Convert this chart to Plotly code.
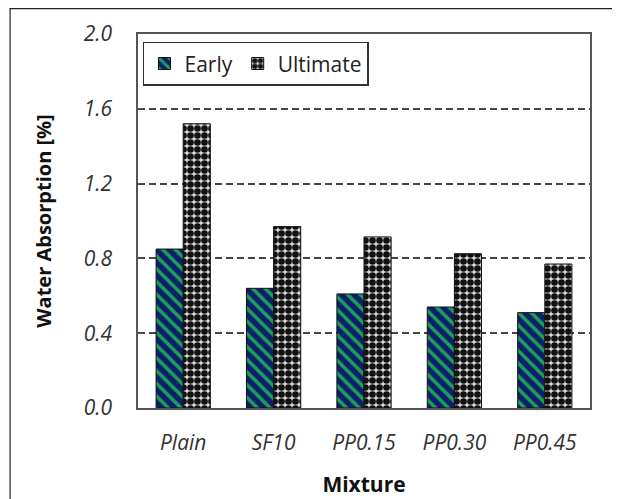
import plotly.graph_objects as go

categories = ["Plain", "SF10", "PP0.15", "PP0.30", "PP0.45"]
early = [0.85, 0.64, 0.61, 0.54, 0.51]
ultimate = [1.52, 0.97, 0.915, 0.825, 0.77]
y_ticks = [0.0, 0.4, 0.8, 1.2, 1.6, 2.0]
y_tick_labels = ["0.0", "0.4", "0.8", "1.2", "1.6", "2.0"]

FONT = "Open Sans, Noto Sans, sans-serif"

fig = go.Figure()
fig.add_trace(go.Bar(
    name="Early", x=categories, y=early,
    marker=dict(color="#0a2a6e",
                line=dict(color="#111111", width=1),
                pattern=dict(shape="\\", fgcolor="#1f9e5a", bgcolor="#0b1f6b",
                             size=9, solidity=0.4, fillmode="replace")),
))
fig.add_trace(go.Bar(
    name="Ultimate", x=categories, y=ultimate,
    marker=dict(color="#ffffff",
                line=dict(color="#111111", width=1),
                pattern=dict(shape=".", fgcolor="#111111", bgcolor="#d9d9d9",
                             size=7, solidity=0.7, fillmode="replace")),
))

fig.update_layout(
    width=612, height=491,
    margin=dict(l=130, r=30, t=26, b=91, autoexpand=False),
    paper_bgcolor="white", plot_bgcolor="white",
    barmode="group", bargap=0.4, bargroupgap=0,
    font=dict(family=FONT, color="#222222"),
    legend=dict(orientation="h", x=0.011, y=0.979, xanchor="left", yanchor="top",
                bordercolor="#333333", borderwidth=1.5, bgcolor="white",
                font=dict(size=21, color="#222222"), itemwidth=30,
                tracegroupgap=0),
    showlegend=True,
    shapes=[dict(type="rect", xref="paper", yref="paper",
                 x0=-0.283, x1=1.1, y0=-0.4, y1=1.068,
                 line=dict(color="#222222", width=1.2), fillcolor="rgba(0,0,0,0)",
                 layer="below")],
)
fig.update_xaxes(
    automargin=False,
    tickvals=categories, ticktext=["<i>%s</i>" % c for c in categories],
    showline=True, linecolor="#555555", linewidth=1.5, mirror=True,
    tickfont=dict(size=21, color="#333333"),
    ticks="", ticklabelstandoff=15,
    title=dict(text="<b>Mixture</b>", font=dict(size=21, color="#111111"), standoff=22),
)
fig.update_yaxes(
    automargin=False,
    range=[0, 2.0], tickvals=y_ticks, ticktext=["<i>%s</i>" % t for t in y_tick_labels],
    showline=True, linecolor="#555555", linewidth=1.5, mirror=True,
    showgrid=True, gridcolor="#444444", gridwidth=1.5, griddash="7px,4px",
    ticks="inside", ticklen=5, tickcolor="#555555",
    tickfont=dict(size=21, color="#333333"), ticklabelstandoff=20,
    zeroline=False,
    title=dict(text="<b>Water Absorption [%]</b>", font=dict(size=20, color="#111111"), standoff=27),
)

fig.write_html("out.html")
